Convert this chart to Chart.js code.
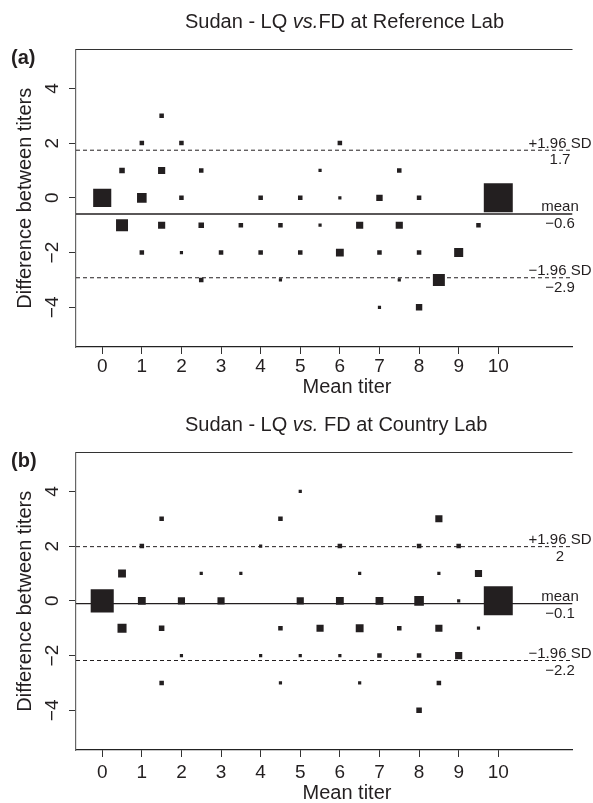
<!DOCTYPE html>
<html>
<head>
<meta charset="utf-8">
<script src="https://cdn.jsdelivr.net/npm/chart.js@4"></script>
<style>
  body { margin: 0; background: #fff; }
  canvas { position: absolute; left: 0; }
</style>
</head>
<body>
<canvas id="chartA" width="593" height="400" style="top:0"></canvas>
<canvas id="chartB" width="593" height="400" style="top:403px"></canvas>
<script>
// (a) reference lab: mean titer, difference, number of samples on that spot
const refX = [0, 0.5, 0.5, 1, 1, 1, 1.5, 1.5, 1.5, 2, 2, 2, 2.5, 2.5, 2.5, 3, 3.5, 4, 4, 4.5, 4.5,
  5, 5, 5.5, 5.5, 6, 6, 6, 6.5, 7, 7, 7, 7.5, 7.5, 7.5, 8, 8, 8, 8.5, 9, 9.5, 10];
const refY = [0, 1, -1, 2, 0, -2, 3, 1, -1, 2, 0, -2, 1, -1, -3, -2, -1, 0, -2, -1, -3,
  0, -2, 1, -1, 2, 0, -2, -1, 0, -2, -4, 1, -1, -3, 0, -2, -4, -3, -2, -1, 0];
const refN = [32, 3, 14, 2, 9, 2, 2, 5, 5, 2, 2, 1, 2, 3, 2, 2, 2, 2, 2, 2, 1,
  2, 2, 1, 1, 2, 1, 6, 5, 4, 2, 1, 2, 5, 1, 2, 2, 4, 14, 8, 2, 82];
// upper limit, mean difference, lower limit
const refLimits = [1.74, -0.59, -2.92];

// (b) country lab
const ctyX = [0, 0.5, 0.5, 1, 1, 1.5, 1.5, 1.5, 2, 2, 2.5, 3, 3.5, 4, 4, 4.5, 4.5, 4.5, 5, 5, 5,
  5.5, 6, 6, 6, 6.5, 6.5, 6.5, 7, 7, 7.5, 8, 8, 8, 8, 8.5, 8.5, 8.5, 8.5, 9, 9, 9, 9.5, 9.5, 10];
const ctyY = [0, 1, -1, 2, 0, 3, -1, -3, 0, -2, 1, 0, 1, 2, -2, 3, -1, -3, 4, 0, -2,
  -1, 2, 0, -2, 1, -1, -3, 0, -2, -1, 2, 0, -2, -4, 3, 1, -1, -3, 2, 0, -2, 1, -1, 0];
const ctyN = [52, 6, 8, 2, 6, 2, 3, 2, 5, 1, 1, 5, 1, 1, 1, 2, 2, 1, 1, 5, 1,
  5, 2, 6, 1, 1, 6, 1, 6, 2, 2, 2, 9, 2, 3, 5, 1, 5, 2, 2, 1, 5, 5, 1, 82];
const ctyLimits = [1.98, -0.1, -2.18];

const xTicks = [0, 1, 2, 3, 4, 5, 6, 7, 8, 9, 10];
const yTicks = [-4, -2, 0, 2, 4];
const limitNames = ["+1.96 SD", "mean", "\u22121.96 SD"];
const titleA = [["Sudan - LQ ", false], ["vs.", true], ["FD at Reference Lab", false]];
const titleB = [["Sudan - LQ ", false], ["vs.", true], [" FD at Country Lab", false]];

const X_MIN = -0.662, X_MAX = 11.874;
const Y_MIN = -5.45, Y_MAX = 5.42;
const FONT = '"Liberation Sans", Arial, Helvetica, sans-serif';
const INK = '#231f20';

function side(n) { return 3.2 * Math.sqrt(n); }
function fmt(v) { return String(Number(v.toFixed(1))).replace('-', '\u2212'); }

function makeChart(id, letter, title, xs, ys, ns, limits, low) {
  const pts = xs.map((x, i) => ({ x: x, y: ys[i] }));
  const lines = limits.map((v, i) => ({
    type: 'line',
    data: [{ x: X_MIN, y: v }, { x: X_MAX, y: v }],
    borderColor: INK,
    borderWidth: i === 1 ? 1.3 : 1,
    borderDash: i === 1 ? [] : [4, 3],
    pointRadius: 0,
    order: 1
  }));

  const textPlugin = {
    id: 'texts',
    afterDraw(chart) {
      const ctx = chart.ctx, ca = chart.chartArea;
      const sx = chart.scales.x, sy = chart.scales.y;
      ctx.save();
      // top of the box
      ctx.strokeStyle = '#333';
      ctx.lineWidth = 1.2;
      ctx.beginPath();
      ctx.moveTo(ca.left, ca.top);
      ctx.lineTo(ca.right, ca.top);
      ctx.stroke();

      ctx.fillStyle = INK;
      ctx.textBaseline = 'alphabetic';
      ctx.textAlign = 'left';
      let tx = 185;
      title.forEach(([t, it]) => {
        ctx.font = (it ? 'italic ' : '') + '20px ' + FONT;
        ctx.fillText(t, tx, 28);
        tx += ctx.measureText(t).width;
      });

      ctx.font = 'bold 20px ' + FONT;
      ctx.fillText(letter, 11, 64);

      // x ticks and title
      ctx.textAlign = 'center';
      ctx.font = '19px ' + FONT;
      xTicks.forEach(v => ctx.fillText(String(v), sx.getPixelForValue(v), 372 + low));
      ctx.font = '20px ' + FONT;
      ctx.fillText('Mean titer', 347, 393 + low);

      // y ticks (rotated) and title
      ctx.font = '19px ' + FONT;
      yTicks.forEach(v => {
        ctx.save();
        ctx.translate(58, sy.getPixelForValue(v));
        ctx.rotate(-Math.PI / 2);
        ctx.fillText(String(v).replace('-', '\u2212'), 0, 0);
        ctx.restore();
      });
      ctx.save();
      ctx.translate(31, (ca.top + ca.bottom) / 2);
      ctx.rotate(-Math.PI / 2);
      ctx.font = '20px ' + FONT;
      ctx.fillText('Difference between titers', 0, 0);
      ctx.restore();

      // limit labels
      ctx.font = '15px ' + FONT;
      limits.forEach((v, i) => {
        const py = sy.getPixelForValue(v);
        ctx.fillText(limitNames[i], 560, py - 2.5);
        ctx.fillText(fmt(v), 560, py + 14);
      });
      ctx.restore();
    }
  };

  return new Chart(document.getElementById(id), {
    type: 'scatter',
    data: {
      datasets: [{
        data: pts,
        pointStyle: 'rect',
        pointRadius: ns.map(n => side(n) / Math.SQRT2),
        pointHoverRadius: ns.map(n => side(n) / Math.SQRT2),
        backgroundColor: INK,
        borderWidth: 0,
        order: 0
      }].concat(lines)
    },
    options: {
      responsive: false,
      animation: false,
      events: [],
      layout: { padding: { top: 49.5, left: 0, right: 0, bottom: 0 } },
      plugins: { legend: { display: false }, title: { display: false }, tooltip: { enabled: false } },
      scales: {
        x: {
          type: 'linear', min: X_MIN, max: X_MAX,
          afterBuildTicks: s => { s.ticks = xTicks.map(v => ({ value: v })); },
          afterFit: s => { s.height = 53; },
          ticks: { display: false },
          grid: { display: true, drawOnChartArea: false, drawTicks: true, tickLength: 7, color: '#333' },
          border: { display: true, color: '#222', width: 1.2 }
        },
        y: {
          type: 'linear', min: Y_MIN, max: Y_MAX,
          afterBuildTicks: s => { s.ticks = yTicks.map(v => ({ value: v })); },
          afterFit: s => { s.width = 76; },
          ticks: { display: false },
          grid: { display: true, drawOnChartArea: false, drawTicks: true, tickLength: 7, color: '#333' },
          border: { display: true, color: '#666', width: 1.2 }
        }
      }
    },
    plugins: [textPlugin]
  });
}

makeChart('chartA', '(a)', titleA, refX, refY, refN, refLimits, 0);
makeChart('chartB', '(b)', titleB, ctyX, ctyY, ctyN, ctyLimits, 3);
</script>
</body>
</html>
